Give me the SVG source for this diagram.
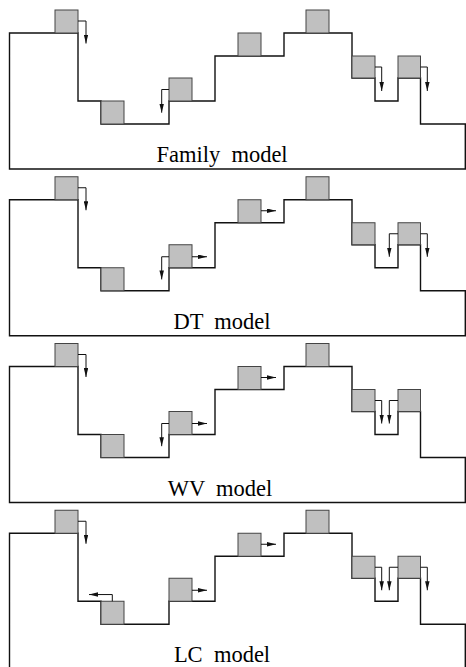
<svg xmlns="http://www.w3.org/2000/svg" width="466" height="667" viewBox="0 0 466 667">
<style>
.out{fill:none;stroke:#111;stroke-width:1.4}
.box{fill:#c0c0c0;stroke:#444;stroke-width:1}
.arr{fill:none;stroke:#111;stroke-width:1;marker-end:url(#ah)}
.lbl{font-size:22.5px;fill:#000;text-anchor:middle;white-space:pre}
</style>
<defs>
<marker id="ah" viewBox="0 0 9 4.5" refX="9" refY="2.25" markerWidth="9" markerHeight="4.5" orient="auto" markerUnits="userSpaceOnUse">
<path d="M0,0 L9,2.25 L0,4.5 z" fill="#111"/>
</marker>
<path id="terrain" d="M9.5,169 V33 H78 V101 H101 V124 H169 V101 H215 V56 H284 V33 H352 V78 H375 V101 H398 V78 H420.5 V124 H465.3 V169 Z"/>
</defs>
<rect width="466" height="667" fill="#fff"/>

<!-- Panel 1: Family model -->
<g id="panel-family">
<use href="#terrain" class="out"/>
<g id="f-b1"><rect class="box" x="55" y="10" width="23" height="23"/></g>
<g id="f-b2"><rect class="box" x="101" y="101" width="23" height="23"/></g>
<g id="f-b3"><rect class="box" x="169" y="78" width="23" height="23"/></g>
<g id="f-b4"><rect class="box" x="238" y="33" width="23" height="23"/></g>
<g id="f-b5"><rect class="box" x="306" y="10" width="23" height="23"/></g>
<g id="f-b6"><rect class="box" x="352" y="56" width="23" height="22"/></g>
<g id="f-b7"><rect class="box" x="398" y="56" width="22.5" height="22"/></g>
<g id="f-connectors">
<path class="arr" d="M78,21 H86 V43.5"/>
<path class="arr" d="M169,89.5 H161.7 V112.7"/>
<path class="arr" d="M375,67 H381.7 V91"/>
<path class="arr" d="M420.5,67 H427.3 V91"/>
</g>
<text class="lbl" font-family="'Liberation Serif', 'DejaVu Serif', serif" x="222" y="161.7">Family  model</text>
</g>

<!-- Panel 2: DT model -->
<g id="panel-dt" transform="translate(0,166.75)">
<use href="#terrain" class="out"/>
<g id="d-b1"><rect class="box" x="55" y="10" width="23" height="23"/></g>
<g id="d-b2"><rect class="box" x="101" y="101" width="23" height="23"/></g>
<g id="d-b3"><rect class="box" x="169" y="78" width="23" height="23"/></g>
<g id="d-b4"><rect class="box" x="238" y="33" width="23" height="23"/></g>
<g id="d-b5"><rect class="box" x="306" y="10" width="23" height="23"/></g>
<g id="d-b6"><rect class="box" x="352" y="56" width="23" height="22"/></g>
<g id="d-b7"><rect class="box" x="398" y="56" width="22.5" height="22"/></g>
<g id="d-connectors">
<path class="arr" d="M78,21 H86 V43.5"/>
<path class="arr" d="M169,90 H161.7 V112.7"/>
<path class="arr" d="M192,90 H207"/>
<path class="arr" d="M261,44 H276"/>
<path class="arr" d="M398,67 H389.3 V90"/>
<path class="arr" d="M420.5,67 H427.3 V90"/>
</g>
<text class="lbl" font-family="'Liberation Serif', 'DejaVu Serif', serif" x="222" y="162">DT  model</text>
</g>

<!-- Panel 3: WV model -->
<g id="panel-wv" transform="translate(0,333.5)">
<use href="#terrain" class="out"/>
<g id="w-b1"><rect class="box" x="55" y="10" width="23" height="23"/></g>
<g id="w-b2"><rect class="box" x="101" y="101" width="23" height="23"/></g>
<g id="w-b3"><rect class="box" x="169" y="78" width="23" height="23"/></g>
<g id="w-b4"><rect class="box" x="238" y="33" width="23" height="23"/></g>
<g id="w-b5"><rect class="box" x="306" y="10" width="23" height="23"/></g>
<g id="w-b6"><rect class="box" x="352" y="56" width="23" height="22"/></g>
<g id="w-b7"><rect class="box" x="398" y="56" width="22.5" height="22"/></g>
<g id="w-connectors">
<path class="arr" d="M78,21 H86 V43.5"/>
<path class="arr" d="M169,90 H161.7 V112.7"/>
<path class="arr" d="M192,90 H207"/>
<path class="arr" d="M261,44 H276"/>
<path class="arr" d="M375,67 H381.7 V90"/>
<path class="arr" d="M398,67 H389.3 V90"/>
</g>
<text class="lbl" font-family="'Liberation Serif', 'DejaVu Serif', serif" x="220" y="162">WV  model</text>
</g>

<!-- Panel 4: LC model -->
<g id="panel-lc" transform="translate(0,500.25)">
<use href="#terrain" class="out"/>
<g id="l-b1"><rect class="box" x="55" y="10" width="23" height="23"/></g>
<g id="l-b2"><rect class="box" x="101" y="101" width="23" height="23"/></g>
<g id="l-b3"><rect class="box" x="169" y="78" width="23" height="23"/></g>
<g id="l-b4"><rect class="box" x="238" y="33" width="23" height="23"/></g>
<g id="l-b5"><rect class="box" x="306" y="10" width="23" height="23"/></g>
<g id="l-b6"><rect class="box" x="352" y="56" width="23" height="22"/></g>
<g id="l-b7"><rect class="box" x="398" y="56" width="22.5" height="22"/></g>
<g id="l-connectors">
<path class="arr" d="M78,21 H86 V43.5"/>
<path class="arr" d="M112.3,101 V94.3 H89"/>
<path class="arr" d="M192,90 H207"/>
<path class="arr" d="M261,44 H276"/>
<path class="arr" d="M375,67 H381.7 V90"/>
<path class="arr" d="M398,67 H389.3 V90"/>
<path class="arr" d="M420.5,67 H427.3 V90"/>
</g>
<text class="lbl" font-family="'Liberation Serif', 'DejaVu Serif', serif" x="222" y="162">LC  model</text>
</g>
</svg>
